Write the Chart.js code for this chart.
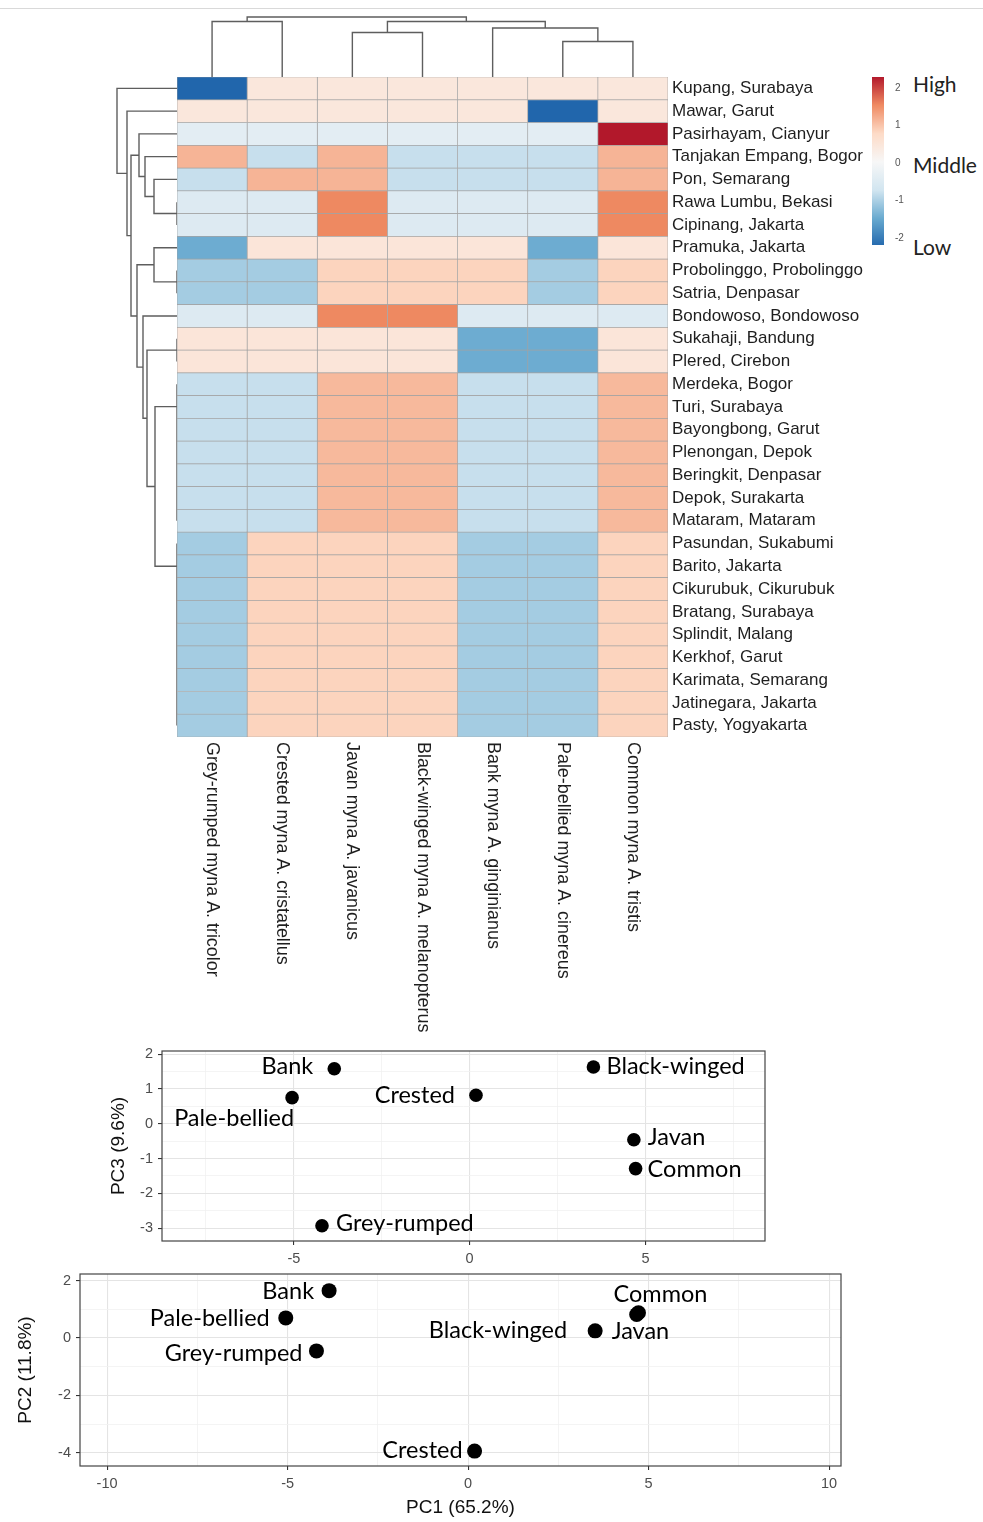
<!DOCTYPE html>
<html lang="en">
<head>
    <meta charset="UTF-8">
    <title>Myna heatmap and PCA</title>
    <script src="https://cdn.jsdelivr.net/npm/chart.js"></script>
    <style>
        body {
            margin: 0;
            width: 983px;
            height: 1522px;
            background: #fff;
            position: relative;
            overflow: hidden;
            font-family: "Liberation Sans", Arial, sans-serif;
        }
        canvas { position: absolute; }
        .topline {
            position: absolute;
            left: 0; top: 8px;
            width: 983px; height: 1px;
            background: #d9d9d9;
        }
        .lvl {
            position: absolute;
            left: 913px;
            font-family: Lato, sans-serif;
            font-size: 21px;
            line-height: 1;
            color: #222;
        }
    </style>
</head>
<body>
    <div class="topline"></div>
    <canvas id="colDendro" width="491" height="67" style="left:177px;top:10px"></canvas>
    <canvas id="rowDendro" width="67" height="660" style="left:110px;top:77px"></canvas>
    <canvas id="heat" width="690" height="963" style="left:177px;top:77px"></canvas>
    <canvas id="scaleBar" width="40" height="180" style="left:872px;top:71px"></canvas>
    <div class="lvl" style="top:73px">High</div>
    <div class="lvl" style="top:154px">Middle</div>
    <div class="lvl" style="top:236px">Low</div>
    <canvas id="pc13" width="680" height="230" style="left:95px;top:1043px"></canvas>
    <canvas id="pc12" width="845" height="256" style="left:5px;top:1266px"></canvas>

    <script>
        // ---- heatmap data ----
        const locations = [
            'Kupang, Surabaya', 'Mawar, Garut', 'Pasirhayam, Cianyur', 'Tanjakan Empang, Bogor',
            'Pon, Semarang', 'Rawa Lumbu, Bekasi', 'Cipinang, Jakarta', 'Pramuka, Jakarta',
            'Probolinggo, Probolinggo', 'Satria, Denpasar', 'Bondowoso, Bondowoso', 'Sukahaji, Bandung',
            'Plered, Cirebon', 'Merdeka, Bogor', 'Turi, Surabaya', 'Bayongbong, Garut',
            'Plenongan, Depok', 'Beringkit, Denpasar', 'Depok, Surakarta', 'Mataram, Mataram',
            'Pasundan, Sukabumi', 'Barito, Jakarta', 'Cikurubuk, Cikurubuk', 'Bratang, Surabaya',
            'Splindit, Malang', 'Kerkhof, Garut', 'Karimata, Semarang', 'Jatinegara, Jakarta',
            'Pasty, Yogyakarta'
        ];
        const species = [
            'Grey-rumped myna A. tricolor', 'Crested myna A. cristatellus', 'Javan myna A. javanicus',
            'Black-winged myna A. melanopterus', 'Bank myna A. ginginianus', 'Pale-bellied myna A. cinereus',
            'Common myna A. tristis'
        ];
        // scaled values, one array per species column, rows in the order of locations
        const greyRumped = [-2.25, 0.45, -0.38, 1.15, -0.8, -0.5, -0.5, -1.45, -1.05, -1.05, -0.5, 0.5, 0.5,
            -0.8, -0.8, -0.8, -0.8, -0.8, -0.8, -0.8,
            -1.05, -1.05, -1.05, -1.05, -1.05, -1.05, -1.05, -1.05, -1.05];
        const crested = [0.45, 0.45, -0.38, -0.8, 1.15, -0.5, -0.5, 0.5, -1.05, -1.05, -0.5, 0.5, 0.5,
            -0.8, -0.8, -0.8, -0.8, -0.8, -0.8, -0.8,
            0.85, 0.85, 0.85, 0.85, 0.85, 0.85, 0.85, 0.85, 0.85];
        const javan = [0.45, 0.45, -0.38, 1.15, 1.15, 1.55, 1.55, 0.5, 0.85, 0.85, 1.55, 0.5, 0.5,
            1.1, 1.1, 1.1, 1.1, 1.1, 1.1, 1.1,
            0.85, 0.85, 0.85, 0.85, 0.85, 0.85, 0.85, 0.85, 0.85];
        const blackWinged = [0.45, 0.45, -0.38, -0.8, -0.8, -0.5, -0.5, 0.5, 0.85, 0.85, 1.55, 0.5, 0.5,
            1.1, 1.1, 1.1, 1.1, 1.1, 1.1, 1.1,
            0.85, 0.85, 0.85, 0.85, 0.85, 0.85, 0.85, 0.85, 0.85];
        const bank = [0.45, 0.45, -0.38, -0.8, -0.8, -0.5, -0.5, 0.5, 0.85, 0.85, -0.5, -1.45, -1.45,
            -0.8, -0.8, -0.8, -0.8, -0.8, -0.8, -0.8,
            -1.05, -1.05, -1.05, -1.05, -1.05, -1.05, -1.05, -1.05, -1.05];
        const paleBellied = [0.45, -2.25, -0.38, -0.8, -0.8, -0.5, -0.5, -1.45, -1.05, -1.05, -0.5, -1.45, -1.45,
            -0.8, -0.8, -0.8, -0.8, -0.8, -0.8, -0.8,
            -1.05, -1.05, -1.05, -1.05, -1.05, -1.05, -1.05, -1.05, -1.05];
        const common = [0.45, 0.45, 2.3, 1.15, 1.15, 1.55, 1.55, 0.5, 0.85, 0.85, -0.5, 0.5, 0.5,
            1.1, 1.1, 1.1, 1.1, 1.1, 1.1, 1.1,
            0.85, 0.85, 0.85, 0.85, 0.85, 0.85, 0.85, 0.85, 0.85];
        const columns = [greyRumped, crested, javan, blackWinged, bank, paleBellied, common];

        // dendrograms, hclust style: negative = leaf number, positive = earlier merge, then height
        const rowMerges = [
            [-6, -7, 0], [-9, -10, 0], [-12, -13, 0],
            [-19, -20, 0], [-18, 4, 0], [-17, 5, 0], [-16, 6, 0], [-15, 7, 0], [-14, 8, 0],
            [-28, -29, 0], [-27, 10, 0], [-26, 11, 0], [-25, 12, 0], [-24, 13, 0], [-23, 14, 0],
            [-22, 15, 0], [-21, 16, 0],
            [-5, 1, 23], [-4, 18, 32], [-3, 19, 38], [-8, 2, 23], [9, 17, 22], [3, 22, 30],
            [-11, 23, 34], [21, 24, 40], [20, 25, 46], [-2, 26, 50], [-1, 27, 60]
        ];
        const colMerges = [
            [-6, -7, 35.5], [-3, -4, 44.5], [-5, 1, 49], [-1, -2, 55.5], [2, 3, 55.5], [4, 5, 60]
        ];

        // colour key
        const keyTicks = [-2, -1, 0, 1, 2];
        const rampStops = [-2.25, -1.49, -0.73, 0.025, 0.78, 1.54, 2.3];
        const rampColors = ['#2166ac', '#67a9cf', '#d1e5f0', '#f7f7f7', '#fddbc7', '#ef8a62', '#b2182b'];

        // ---- PCA data ----
        const pcaNames = ['Bank', 'Pale-bellied', 'Crested', 'Black-winged', 'Javan', 'Common', 'Grey-rumped'];
        const pc1 = [-3.85, -5.05, 0.18, 3.52, 4.67, 4.72, -4.2];
        const pc2 = [1.65, 0.7, -3.94, 0.25, 0.82, 0.88, -0.45];
        const pc3 = [1.58, 0.75, 0.82, 1.63, -0.46, -1.29, -2.93];

        // label placement next to each point: dx, dy, alignment
        const labelPos13 = [[-21, -2, 'right'], [2, 21, 'right'], [-21, 0, 'right'], [13, -1, 'left'],
            [14, -2, 'left'], [12, 1, 'left'], [14, -2, 'left']];
        const labelPos12 = [[-15, 1, 'right'], [-16, 1, 'right'], [-12, -1, 'right'], [-28, 0, 'right'],
            [-25, 17, 'left'], [22, -18, 'center'], [-14, 3, 'right']];

        Chart.defaults.animation = false;
        Chart.defaults.responsive = false;
        Chart.defaults.font.family = '"Liberation Sans", Arial, sans-serif';
        Chart.defaults.plugins.legend.display = false;
        Chart.defaults.plugins.tooltip.enabled = false;

        function hex(c) {
            return [1, 3, 5].map(i => parseInt(c.slice(i, i + 2), 16));
        }
        function colourOf(v) {
            if (v <= rampStops[0]) return rampColors[0];
            for (let i = 1; i < rampStops.length; i++) {
                if (v <= rampStops[i]) {
                    const t = (v - rampStops[i - 1]) / (rampStops[i] - rampStops[i - 1]);
                    const a = hex(rampColors[i - 1]), b = hex(rampColors[i]);
                    const m = a.map((x, k) => Math.round(x + (b[k] - x) * t));
                    return 'rgb(' + m.join(',') + ')';
                }
            }
            return rampColors[rampColors.length - 1];
        }

        // stop the label overhang from shrinking the plot area
        const noOverhang = s => { s.paddingTop = 0; s.paddingBottom = 0; s.paddingLeft = 0; s.paddingRight = 0; };

        function dendroPoints(merges, rowsAlongY) {
            const pos = [], hgt = [];
            const at = k => k < 0 ? [-k - 0.5, 0] : [pos[k - 1], hgt[k - 1]];
            const pts = [];
            merges.forEach(([a, b, h], i) => {
                const [pa, ha] = at(a), [pb, hb] = at(b);
                pos[i] = (pa + pb) / 2;
                hgt[i] = h;
                [[pa, ha], [pa, h], [pb, h], [pb, hb]].forEach(([p, v]) =>
                    pts.push(rowsAlongY ? { x: v, y: p } : { x: p, y: v }));
                pts.push({ x: null, y: null });
            });
            return pts;
        }

        function dendroChart(id, merges, rowsAlongY, leaves) {
            const hScale = { type: 'linear', display: false, min: 0, max: 67 };
            const pScale = { type: 'linear', display: false, min: 0, max: leaves };
            new Chart(document.getElementById(id), {
                type: 'scatter',
                data: {
                    datasets: [{
                        data: dendroPoints(merges, rowsAlongY),
                        showLine: true,
                        spanGaps: false,
                        borderColor: '#5e5e5e',
                        borderWidth: 1.4,
                        pointRadius: 0
                    }]
                },
                options: {
                    scales: rowsAlongY
                        ? { x: { ...hScale, reverse: true }, y: { ...pScale, reverse: true } }
                        : { x: pScale, y: hScale }
                }
            });
        }

        dendroChart('colDendro', colMerges, false, species.length);
        dendroChart('rowDendro', rowMerges, true, locations.length);

        // heatmap as stacked horizontal bars, one dataset per species column
        const columnLabels = {
            id: 'columnLabels',
            afterDraw(chart) {
                const c = chart.ctx;
                const top = chart.chartArea.bottom + 5;
                c.save();
                c.font = '17.9px "Liberation Sans", Arial, sans-serif';
                c.fillStyle = '#1e1e1e';
                c.textAlign = 'left';
                c.textBaseline = 'middle';
                chart.data.datasets.forEach((ds, j) => {
                    const bar = chart.getDatasetMeta(j).data[0];
                    const x = (bar.x + bar.base) / 2;
                    c.save();
                    c.translate(x, top);
                    c.rotate(Math.PI / 2);
                    c.fillText(species[j], 0, 0);
                    c.restore();
                });
                c.restore();
            }
        };

        new Chart(document.getElementById('heat'), {
            type: 'bar',
            data: {
                labels: locations,
                datasets: columns.map(col => ({
                    data: col.map(() => 1),
                    backgroundColor: col.map(colourOf),
                    borderColor: '#a3a3a3',
                    borderWidth: 0.7,
                    borderSkipped: false,
                    barPercentage: 1,
                    categoryPercentage: 1
                }))
            },
            options: {
                indexAxis: 'y',
                layout: { padding: { bottom: 303 } },
                scales: {
                    x: { stacked: true, display: false, min: 0, max: species.length },
                    y: {
                        stacked: true,
                        position: 'right',
                        grid: { display: false, drawTicks: false },
                        border: { display: false },
                        ticks: { padding: 4, color: '#1e1e1e', font: { size: 17 }, autoSkip: false },
                        afterFit: s => { s.width = 199; noOverhang(s); }
                    }
                }
            },
            plugins: [columnLabels]
        });

        // colour key bar
        new Chart(document.getElementById('scaleBar'), {
            type: 'bar',
            data: {
                labels: [''],
                datasets: [{
                    data: [[-2.19, 2.29]],
                    barPercentage: 1,
                    categoryPercentage: 1,
                    backgroundColor: ctx => {
                        const chart = ctx.chart;
                        if (!chart.chartArea) return '#fff';
                        const ys = chart.scales.y;
                        const g = chart.ctx.createLinearGradient(0, ys.getPixelForValue(rampStops[0]), 0,
                            ys.getPixelForValue(rampStops[rampStops.length - 1]));
                        rampColors.forEach((c, i) => g.addColorStop(i / (rampColors.length - 1), c));
                        return g;
                    }
                }]
            },
            options: {
                layout: { padding: { top: 6, bottom: 6 } },
                scales: {
                    x: { display: false },
                    y: {
                        position: 'right',
                        min: -2.19, max: 2.29,
                        afterBuildTicks: s => { s.ticks = keyTicks.map(v => ({ value: v })); },
                        grid: { display: false },
                        border: { display: false },
                        ticks: { padding: 3, color: '#555', font: { size: 10 } },
                        afterFit: s => { s.width = 28; noOverhang(s); }
                    }
                }
            }
        });

        // ---- PCA panels ----
        const pointLabels = {
            id: 'pointLabels',
            afterDatasetsDraw(chart, args, opts) {
                const c = chart.ctx;
                c.save();
                c.font = '23.5px Lato, sans-serif';
                c.fillStyle = '#000';
                c.textBaseline = 'middle';
                chart.getDatasetMeta(0).data.forEach((pt, i) => {
                    const [dx, dy, align] = opts.place[i];
                    c.textAlign = align;
                    c.fillText(opts.names[i], pt.x + dx, pt.y + dy);
                });
                c.restore();
            }
        };
        const panelFrame = {
            id: 'panelFrame',
            afterDraw(chart) {
                const a = chart.chartArea, c = chart.ctx;
                c.save();
                c.strokeStyle = '#444';
                c.lineWidth = 1.2;
                c.strokeRect(a.left, a.top, a.right - a.left, a.bottom - a.top);
                c.restore();
            }
        };

        const near = (v, step) => Math.abs(v / step - Math.round(v / step)) < 1e-6;
        function pcaAxis(min, max, step, major, title, fit, titlePad) {
            return {
                type: 'linear', min, max,
                ticks: {
                    stepSize: step,
                    includeBounds: false,
                    autoSkip: false,
                    maxRotation: 0,
                    padding: 5,
                    color: '#4d4d4d',
                    font: { size: 14.5 },
                    callback: v => near(v, major) ? String(Math.round(v)) : ''
                },
                grid: {
                    color: c => c.tick && near(c.tick.value, major) ? '#e4e4e4' : '#f1f1f1',
                    lineWidth: c => c.tick && near(c.tick.value, major) ? 1.1 : 0.8,
                    tickColor: c => c.tick && near(c.tick.value, major) ? '#333' : 'rgba(0,0,0,0)',
                    tickLength: 4
                },
                border: { display: false },
                title: {
                    display: !!title, text: title, color: '#111',
                    font: { size: 19 }, padding: titlePad
                },
                afterFit: s => { fit(s); noOverhang(s); }
            };
        }

        function pcaChart(id, ys, names, place, opts) {
            new Chart(document.getElementById(id), {
                type: 'scatter',
                data: {
                    datasets: [{
                        data: pc1.map((x, i) => ({ x, y: ys[i] })),
                        backgroundColor: '#000',
                        borderWidth: 0,
                        pointRadius: opts.r
                    }]
                },
                options: {
                    layout: { padding: opts.pad },
                    scales: { x: opts.x, y: opts.y },
                    plugins: { pointLabels: { names, place } }
                },
                plugins: [pointLabels, panelFrame]
            });
        }

        pcaChart('pc13', pc3, pcaNames, labelPos13, {
            r: 6.8,
            pad: { top: 8, right: 10 },
            x: pcaAxis(-8.75, 8.4, 2.5, 5, '', s => { s.height = 32; }, 0),
            y: pcaAxis(-3.37, 2.09, 0.5, 1, 'PC3 (9.6%)', s => { s.width = 67; }, { top: 12 })
        });

        pcaChart('pc12', pc2, pcaNames, labelPos12, {
            r: 7.5,
            pad: { top: 8, right: 9 },
            x: pcaAxis(-10.75, 10.33, 2.5, 5, 'PC1 (65.2%)', s => { s.height = 56; }, { bottom: 3 }),
            y: pcaAxis(-4.46, 2.23, 1, 2, 'PC2 (11.8%)', s => { s.width = 75; }, { top: 9 })
        });
    </script>
</body>
</html>
